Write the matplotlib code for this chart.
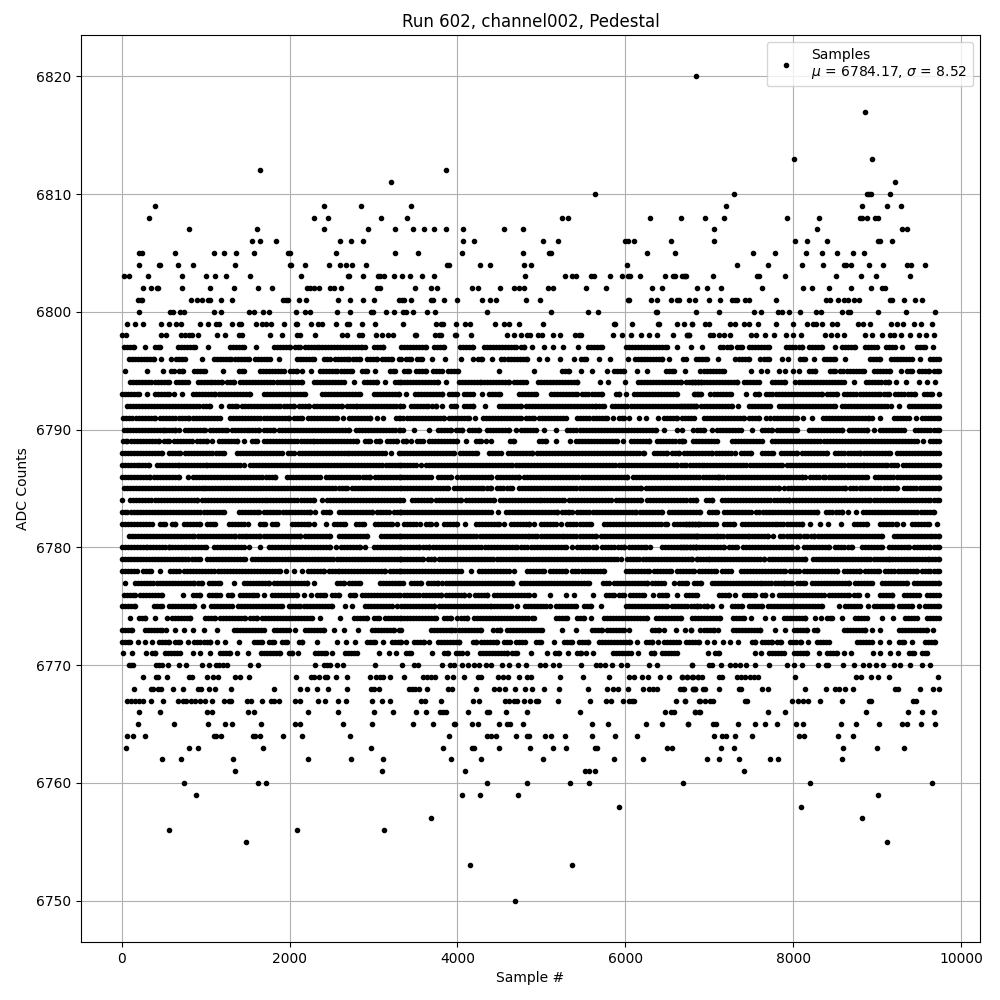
import numpy as np
import matplotlib
matplotlib.use('Agg')
import matplotlib.pyplot as plt

# Sample numbers, one list per ADC level (sparse rows).
s6820 = [6841]
s6817 = [8853]
s6813 = [8008, 8937]
s6812 = [1642, 3865]
s6811 = [3202, 9211]
s6810 = [5640, 7293, 8877, 8901, 8925, 9151]
s6809 = [391, 2404, 2845, 3448, 7198, 8818, 9115, 9282]
s6808 = [320, 2285, 2452, 3083, 3400, 5246, 5318, 6295, 6664, 6948, 7174, 7924, 8306, 8794, 8818, 8877, 8972, 9008]
s6807 = [796, 1606, 2404, 2928, 3261, 3472, 3603, 3722, 3865, 4067, 4556, 4782, 7055, 8282, 9294, 9354]
s6806 = [1546, 1642, 1832, 2594, 2725, 2868, 4067, 4198, 5020, 5199, 5997, 6033, 6104, 6545, 7055, 8020, 8163, 8401, 9008, 9032, 9175]
s6805 = [201, 236, 629, 1094, 1213, 1356, 1570, 1979, 1999, 2547, 3261, 3531, 4055, 4782, 5092, 5115, 6259, 6592,
         7520, 7782, 8151, 8341, 8520, 8710, 8842]
s6804 = [201, 439, 459, 665, 844, 1344, 2000, 2019, 2178, 2463, 2602, 2666, 2737, 2904, 3877, 3901, 4270, 4389, 4794, 4877, 6021,
         7329, 7698, 8103, 8353, 8603, 8627, 8687, 8901, 9068, 9354, 9401, 9568]
s6803 = [30, 81, 308, 713, 999, 1106, 1237, 1522, 2130, 2690, 2702, 2868, 3047, 3071, 3130, 3238, 3341, 3436, 3579, 3722, 4806, 5282,
         5366, 5413, 5592, 5628, 5818, 5961, 6033, 6056, 6176, 6473, 6568, 6592, 6676, 6711, 6698, 6722, 7043, 7567, 7591, 7901, 8508,
         8806, 8984, 9389]
s6802 = [248, 343, 415, 427, 713, 1046, 1332, 1618, 1785, 2205, 2245, 2293, 2344, 2475, 2523, 2606, 3035, 3071, 3496, 3686, 3758,
         4175, 4246, 4508, 4675, 4734, 4794, 5080, 5139, 5532, 5771, 6318, 6437, 6854, 6972, 7138, 7627, 8115, 8222, 8425, 8687, 8925,
         9056, 9092]
s6801 = [189, 224, 236, 820, 891, 951, 1022, 1046, 1177, 1308, 1916, 1951, 1975, 2106, 2190, 2571, 2714, 2868, 2999, 3297, 3341, 3365,
         3448, 3686, 3710, 3841, 3996, 4294, 4389, 4460, 4818, 4984, 6033, 6044, 6306, 6378, 6545, 6616, 6640, 6759, 6830, 6995, 7126,
         7269, 7305, 7329, 7424, 7472, 7793, 8389, 8437, 8532, 8603, 8651, 8722, 8782, 9151, 9175, 9318, 9449, 9532]
s6800 = [201, 570, 605, 689, 737, 1094, 1177, 1511, 1570, 1677, 1749, 2070, 2178, 2237, 2559, 2714, 2964, 2988, 3142, 3238, 3353, 3389,
         3472, 3639, 3734, 4353, 5115, 5556, 5675, 6366, 6378, 6842, 7115, 7531, 7615, 7817, 7865, 7948, 8079, 8270, 8329, 8580, 8651,
         8675, 9008, 9342, 9687]
s6799 = [58, 153, 248, 463, 558, 641, 701, 927, 1022, 1118, 1153, 1308, 1392, 1415, 1594, 1665, 1713, 1773, 1928, 2070, 2082, 2249,
         2332, 2380, 2547, 2678, 2702, 2856, 3011, 3353, 3746, 3805, 3829, 3984, 4091, 4151, 4449, 4556, 4615, 4734, 5020, 5866, 5878,
         6080, 6390, 6402, 6616, 6700, 6795, 6793, 6948, 6995, 7246, 7305, 7412, 7472, 7579, 7793, 7996, 8163, 8234, 8270, 8341, 8460,
         8520, 8770, 8830, 8913, 9163, 9234, 9306, 9437, 9520, 9651]
s6798 = [0, 46, 463, 522, 701, 748, 796, 832, 903, 1130, 1225, 1392, 1427, 1761, 1904, 2082, 2118, 2297, 2618, 2678, 2821, 2856, 3023,
         3095, 3166, 3226, 3496, 3508, 3734, 3782, 3805, 3972, 3984, 4163, 4591, 4675, 4758, 4830, 4865, 4961, 5008, 5139, 5223, 5401,
         5449, 5473, 5854, 5961, 6068, 6187, 6283, 6378, 6568, 6735, 6759, 6733, 6757, 7007, 7043, 7115, 7174, 7246, 7496, 7555, 7662,
         7770, 7913, 7996, 8091, 8377, 8448, 8520, 8603, 8853, 8937, 9056, 9151, 9199, 9282, 9389, 9496, 9580, 9675]
s6770 = [81, 105, 129, 403, 439, 474, 546, 677, 760, 951, 1034, 1118, 1153, 1201, 1249, 1522, 1618, 2297, 2404, 2440, 2476, 2559, 2630,
         3011, 3333, 3484, 3531, 3817, 3912, 3960, 4055, 4127, 4199, 4258, 4341, 4401, 4532, 4615, 4722, 4818, 4984, 5044, 5139, 5211,
         5473, 5651, 5699, 5758, 5842, 5949, 6025, 6283, 6378, 6795, 6793, 6995, 7031, 7138, 7246, 7305, 7365, 7436, 7543, 7710, 7924,
         8008, 8103, 8294, 8389, 8413, 8591, 8722, 8830, 8901, 8984, 9068, 9199, 9270, 9389, 9532, 9627]
s6769 = [248, 403, 427, 534, 796, 832, 1010, 1082, 1141, 1344, 1403, 1511, 2070, 2249, 2285, 2344, 2416, 2440, 2547, 2678, 2952, 3023,
         3071, 3118, 3190, 3365, 3591, 3639, 3686, 3734, 3877, 3948, 4079, 4246, 4282, 4484, 4544, 4603, 4734, 4830, 4877, 5223, 5497,
         5806, 6044, 6104, 6199, 6271, 6414, 6521, 6676, 6735, 6807, 6866, 6674, 6733, 6793, 6864, 6912, 7115, 7150, 7329, 7377, 7424,
         7484, 7531, 7579, 8020, 8746, 8806, 8925, 9008, 9139, 9723]
s6768 = [141, 343, 367, 427, 463, 605, 725, 903, 939, 1034, 1106, 1296, 1808, 2118, 2202, 2321, 2452, 2678, 2964, 2999, 3059, 3424,
         3460, 3496, 3543, 3639, 3889, 3936, 4222, 4437, 4496, 4568, 4687, 4806, 4889, 5032, 5211, 5556, 5782, 5854, 5914, 6033, 6211,
         6283, 6330, 6378, 6652, 6700, 6807, 6830, 6686, 6805, 6829, 6924, 6948, 7115, 7353, 7377, 7627, 7698, 8139, 8389, 8496, 8544,
         8615, 8710, 9211, 9246, 9508, 9663, 9740]
s6767 = [58, 105, 153, 201, 248, 343, 486, 665, 725, 760, 820, 867, 927, 987, 1070, 1213, 1272, 1296, 1487, 1534, 1665, 1773, 1808,
         1868, 2058, 2118, 2332, 2416, 2571, 2666, 2987, 3095, 3190, 3567, 3615, 3805, 4186, 4258, 4568, 4615, 4675, 4711, 4794, 4865,
         4937, 4961, 5199, 5580, 5771, 5830, 5973, 6044, 6080, 6104, 6604, 6711, 6878, 6710, 6888, 6948, 7007, 7043, 7424, 7448, 7984,
         8055, 8115, 8174, 8317, 8580, 8901, 8925, 9425, 9461]
s6766 = [201, 451, 1010, 1070, 1499, 1570, 2213, 2571, 2999, 3226, 3508, 3627, 3793, 3829, 3865, 4127, 4353, 4377, 4580, 4830, 5461,
         6473, 6545, 6580, 6830, 6878, 6829, 6888, 7698, 7901, 8865, 9366, 9532, 9675]
s6765 = [189, 617, 1022, 1225, 1308, 1654, 2058, 2118, 2630, 2976, 3472, 3710, 3960, 3972, 4175, 4246, 4496, 4591, 4627, 4782, 5604,
         5794, 6247, 6437, 6747, 6745, 7043, 7079, 7341, 7543, 7662, 7805, 8032, 8115, 8568, 8746, 9020, 9294, 9354, 9520, 9687]
s6764 = [58, 129, 272, 1094, 1118, 1177, 1558, 1582, 1642, 1916, 2142, 2714, 3901, 4353, 4401, 4460, 4699, 4830, 4854, 5044, 5115,
         5282, 5604, 5878, 6140, 7055, 7150, 7198, 7305, 7508, 8067, 8127, 8532, 8710]
s6763 = [46, 796, 903, 1677, 2964, 3829, 4175, 4198, 4496, 4865, 5139, 5294, 5640, 5663, 6497, 6557, 7138, 7293, 8591, 8996, 9318]
s6762 = [474, 701, 1320, 2213, 2725, 3118, 3924, 4282, 5020, 5866, 6211, 6972, 7115, 7353, 7722, 7817, 8580]
s6761 = [1344, 3095, 4091, 5520, 5568, 5640, 7412]
s6760 = [737, 1618, 1713, 4353, 4830, 5342, 5568, 6688, 8198, 9651]
s6759 = [879, 4055, 4270, 4722, 9008]
s6758 = [5925, 8091]
s6757 = [3686, 8818]
s6756 = [558, 2082, 3130]
s6755 = [1475, 9115]
s6753 = [4151, 5366]
s6750 = [4687]

# Dense rows: (first, last) sample of each unbroken stretch of dots.
# The dots inside a stretch merge, so single samples cannot be told apart there.
r6797 = [(30,141),(272,272),(391,451),(665,875),(1022,1022),(1284,1451),(1602,1602),(1816,2007),(2066,2126),(2186,2344),(2384,2860),(2892,2892),(2999,3118),
         (3325,3623),(3722,3841),(4032,4179),(4318,4695),(4754,4794),(4885,4885),(5032,5032),(5139,5139),(5258,5258),(5437,5437),(5556,5727),(6009,6501),(6620,6620),(6783,6783),
         (6912,6912),(7134,7254),(7333,7392),(7472,7710),(7920,8107),(8186,8345),(8496,8496),(8583,8742),(8861,9000),(9111,9219),(9294,9294),(9477,9576),(9663,9663)]
r6796 = [(81,379),(463,463),(586,586),(649,756),(951,951),(1094,1300),(1352,1511),(1590,1761),(1868,1868),(2086,2285),(2404,2475),(2543,2702),(2749,2841),(2920,3039),(3099,3218),(3297,3297),
         (3325,3325),(3385,3444),(3516,3571),(3698,3698),(3853,3853),(4044,4044),(4186,4186),(4246,4294),(4413,4413),(4524,4834),(4973,4973),(5072,5072),(5219,5219),(5389,5389),(5469,5528),(5687,5687),(5818,5818),(6033,6033),(6116,6441),(6521,6521),(6688,6688),
         (6722,6722),(6841,6976),(7099,7099),(7313,7472),(7611,7710),(7865,7865),(7936,7936),(8087,8147),(8246,8246),(8365,8504),(8615,8615),(8921,9040),(9167,9417),(9508,9508),(9635,9740)]
r6795 = [(34,34),(296,296),(486,486),(586,617),(677,729),(856,995),(1201,1201),(1392,1451),(1650,1928),(1999,2086),(2146,2146),(2249,2249),(2356,2563),(2610,2741),(2860,2920),(3011,3011),(3198,3257),
         (3365,3424),(3504,3623),(3710,3781),(3817,3817),(3881,4008),(4496,4496),(4913,4913),(5246,5330),(5469,5469),(5604,5604),(5782,5782),(5866,5985),(6140,6140),(6263,6263),(6485,6580),
         (6710,6710),(6896,7174),(7496,7496),(7615,7615),(7690,7690),(7829,7829),(7901,7901),(7996,7996),(8067,8067),(8186,8266),(8445,8504),(8564,8842),(8960,9151),(9282,9282),(9358,9417),(9496,9616),(9675,9740)]
r6794 = [(101,558),(649,784),(903,1074),(1114,1193),(1253,1332),(1411,2146),(2285,2642),(2761,2761),(2880,3039),(3138,3138),(3257,3317),
         (3325,3762),(3865,3865),(4020,4278),(4318,4615),(4675,4814),(4961,5350),(5389,5429),(5699,5699),(5794,5794),(5997,5997),(6152,6660),(6799,6898),
         (6718,7333),(7412,7591),(7750,7908),(8028,8603),(8722,8722),(8873,9139),(9223,9223),(9342,9342),(9496,9496),(9592,9592),(9695,9695)]
r6793 = [(2,200),(296,296),(391,558),(617,617),(717,717),(844,1114),(1153,1530),(1689,2186),(2384,2841),(3000,3297),
         (3392,3392),(3492,3821),(3901,4000),(4079,4179),(4294,4294),(4377,4508),(4734,4933),(5111,5429),(5489,5727),(5886,5925),(6009,6009),(6104,6620),(6826,6898),
         (6817,6888),(7015,7254),(7440,7440),(7551,7591),(7682,8345),(8405,8524),(8611,9040),(9080,9139),(9219,9457),(9556,9655),(9735,9735)]
r6792 = [(61,1054),(1181,1181),(1272,1372),(1431,1888),(1928,2046),(2106,2225),(2285,2622),(2682,2801),(2841,3317),
         (3345,3345),(3444,3643),(3702,3742),(3821,3821),(3920,3980),(4079,4190),(4329,4329),(4496,4754),(4814,5647),(5687,5747),(5846,6422),(6461,6838),
         (6658,6837),(6904,7273),(7341,7341),(7472,7722),(7829,8504),(8583,9119),(9171,9171),(9258,9258),(9377,9735)]
r6791 = [(14,121),(173,240),(280,399),(459,796),(848,1165),(1292,1987),(2046,2146),(2213,2563),(2630,2630),(2702,2960),(3035,3035),(3118,3118),(3269,3317),
         (3345,3345),(3396,3841),(3901,4139),(4206,4206),(4298,4754),(4814,4913),(4973,5112),(5151,5290),(5429,5786),(5854,5854),(5925,5985),(6044,6044),(6164,6164),(6247,6247),(6390,6390),(6461,6620),
         (6678,6817),(6936,7412),(7472,7591),(7674,7674),(7730,8048),(8115,8115),(8222,8222),(8357,8901),(8937,8937),(9032,9032),(9199,9377),(9461,9461),(9536,9740)]
r6790 = [(22,498),(526,637),(677,677),(756,995),(1054,1253),(1312,1511),(1550,1630),(1689,1808),(1868,2702),(2793,3317),
         (3345,3345),(3480,3480),(3662,3662),(3762,3920),(3980,4059),(4139,4258),(4349,4615),(4695,4695),(4754,4933),(5032,5032),(5175,5175),(5310,6362),(6461,6461),(6616,6616),
         (6678,6678),(6801,6801),(6857,6936),(7031,7031),(7095,7373),(7512,7512),(7631,7750),(7809,8048),(8186,8583),(8663,8881),(8960,8960),(9032,9318),(9457,9735)]
r6789 = [(14,62),(109,439),(498,558),(625,836),(895,1014),(1078,1078),(1153,1372),(1451,1451),(1550,1610),(1697,2285),(2325,2801),(2900,2960),(3031,3079),(3158,3277),
         (3345,3385),(3444,3444),(3523,3583),(3662,4000),(4103,4103),(4218,4278),(4345,4345),(4405,4405),(4627,4675),(4973,5052),(5171,5171),(5342,5342),(5409,5905),(5977,5977),(6064,6283),(6382,6680),
         (6698,6698),(6809,7095),(7273,7630),(7750,9477),(9544,9544),(9636,9740)]
r6788 = [(2,478),(558,697),(756,1213),(1372,1908),(1975,2046),(2106,2702),(2741,3099),(3138,3138),(3206,3206),(3297,3297),
         (3325,3960),(4028,4230),(4377,4516),(4603,4893),(4945,6223),(6342,6501),(6561,6640),
         (6698,7035),(7075,7254),(7305,7305),(7373,7500),(7631,7762),(7857,8048),(8107,8405),(8504,8802),(8841,9159),(9238,9735)]
r6787 = [(2,200),(240,319),(419,677),(717,1014),(1054,1411),(1459,1459),(1522,3317),
         (3325,3504),(3563,3563),(3623,4655),(4695,6620),
         (6658,6718),(6769,6936),(6976,7869),(7928,8841),(8881,9119),(9167,9238),(9310,9740)]
r6786 = [(2,340),(379,677),(788,788),(848,1828),(1967,2325),(2364,2364),(2436,2960),(3019,3317),
         (3325,3682),(3770,3920),(4000,4397),(4468,4734),(4794,6025),
         (6092,7103),(7134,8107),(8147,8147),(8206,8385),(8425,8881),(8980,9740)]
r6785 = [(22,975),(1006,1006),(1034,2682),(2741,3317),
         (3325,3881),(3960,4298),(4349,4405),(4476,4655),(4734,6183),
         (6243,6777),(6817,7829),(7897,8623),(8683,8822),(8861,9238),(9326,9740)]
r6784 = [(2,2),(101,895),(955,1729),(1769,2285),(2384,2384),(2444,3317),
         (3345,3345),(3456,3682),(3742,4040),(4099,4437),(4508,4992),(5032,5270),(5330,5826),(5886,6183),(6263,6402),(6441,6838),
         (6956,7035),(7154,7948),(8000,8603),(8643,8921),(8960,9635),(9675,9740)]
r6783 = [(2,62),(109,1213),(1392,1630),(1689,1868),(1920,2245),(2305,2305),(2396,2483),(2583,2980),(3039,3178),(3238,3317),
         (3325,4397),(4484,4484),(4576,5191),(5250,5330),(5370,5370),(5429,6124),(6175,6441),(6521,6896),
         (6995,7095),(7174,7492),(7563,8286),(8397,8583),(8651,8651),(8750,8750),(8834,9675)]
r6782 = [(2,359),(451,518),(597,637),(737,935),(1014,1114),(1272,1451),(1499,1499),(1650,1709),(1789,1848),(2027,2225),(2285,2285),(2436,2436),(2523,2662),(2793,2880),(3019,3218),(3277,3277),
         (3365,3504),(3555,3555),(3623,3682),(3742,3742),(3841,4000),(4087,4087),(4218,4496),(4556,4556),(4635,4853),(4913,4913),(4992,5171),(5230,5230),(5310,5588),(5747,6501),(6580,6878),
         (6718,7075),(7174,7293),(7392,7809),(7849,8107),(8206,8206),(8317,8317),(8413,8413),(8568,8568),(8722,8881),(9040,9238),(9306,9306),(9417,9616),(9711,9711)]
r6781 = [(81,439),(478,856),(903,1352),(1392,1491),(1530,1650),(1689,2126),(2186,2483),(2583,2920),(3091,3317),
         (3325,4218),(4270,4853),(4893,4953),(4992,5270),(5310,5647),(5707,6422),(6461,6858),
         (6658,7095),(7134,7472),(7512,7698),(7762,7762),(7849,8087),(8135,8246),(8294,9060),(9199,9655),(9695,9740)]
r6780 = [(2,300),(340,558),(597,737),(768,1006),(1094,1451),(1519,1519),(1642,1642),(1749,1928),(1967,2483),(2551,2551),(2610,2841),(2900,2900),(2999,3317),
         (3325,3543),(3583,3662),(3710,4714),(4762,5290),(5370,5370),(5429,5647),(5727,5985),(6044,6243),(6295,6295),(6441,6838),
         (6658,7174),(7234,7333),(7404,7988),(8048,8048),(8127,8425),(8504,8702),(8822,9060),(9139,9377),(9437,9635),(9675,9740)]
r6779 = [(2,935),(1014,1471),(1550,3317),
         (3325,3583),(3643,3722),(3781,5905),(5945,5945),(6025,6799),(6858,6858),
         (6849,6995),(7035,7651),(7710,8147),(8238,9139),(9179,9616),(9655,9740)]
r6778 = [(2,181),(252,347),(459,459),(578,677),(744,1888),(1959,1959),(2046,2046),(2146,2146),(2213,2404),(2463,2582),(2622,2940),(2980,3138),(3190,3317),
         (3325,3464),(3504,4040),(4159,4159),(4258,4615),(4675,4675),(4826,5032),(5104,5290),(5370,5747),(6005,6283),(6342,6541),(6620,6819),
         (6876,7075),(7154,7254),(7373,7908),(7960,8067),(8127,8524),(8603,8802),(8861,9020),(9100,9477),(9536,9635),(9675,9740)]
r6777 = [(42,42),(161,856),(903,955),(1034,1173),(1340,1340),(1451,1749),(1808,2205),(2285,2285),(2563,2642),(2702,2841),(3071,3317),
         (3345,3345),(3444,3563),(3643,3762),(3821,4655),(4754,5568),(5735,5806),(5866,6263),(6322,6461),(6580,6580),(6640,6739),(6819,6898),
         (7035,7631),(7670,7889),(7928,7988),(8048,8147),(8226,8663),(8742,8941),(9060,9357),(9437,9735)]
r6776 = [(22,161),(220,320),(359,478),(725,725),(848,935),(1034,1133),(1173,1173),(1265,1312),(1403,1570),(1610,1610),(1689,1689),(1789,2086),(2166,2166),(2253,2253),(2325,2424),(2503,2582),(2722,2781),(2860,3317),
         (3365,3543),(3583,3801),(3861,4079),(4139,4139),(4206,4357),(4437,4853),(4913,4913),(5104,5104),(5298,5298),(5389,5389),(5616,5616),(5766,5866),(5925,5985),(6056,6223),(6330,6330),(6402,6501),(6620,6620),(6719,6858),
         (7115,7234),(7305,7305),(7412,7551),(7631,7670),(7750,7750),(7829,8365),(8425,8663),(8722,8782),(8881,8881),(9032,9179),(9318,9497),(9596,9735)]
r6775 = [(2,161),(379,478),(558,856),(963,963),(1062,1312),(1380,1908),(1987,2126),(2166,2503),(2662,2662),(2741,2741),(2900,3218),(3277,3277),
         (3325,3722),(3781,4397),(4437,4635),(4707,4707),(4802,5052),(5104,5104),(5171,5409),(5509,5588),(5707,5707),(6005,6501),(6561,6858),
         (6896,6976),(7031,7031),(7138,7138),(7273,7392),(7472,7631),(7698,8008),(8048,8345),(8544,8544),(8623,8802),(8889,8889),(8960,9179),(9258,9417),(9496,9496),(9576,9735)]
r6774 = [(93,93),(200,280),(391,391),(534,534),(597,816),(995,1114),(1173,1471),(1531,1610),(1669,2265),(2356,2356),(2594,2594),(2761,2920),(2999,3059),(3138,3317),
         (3325,3504),(3543,3742),(3841,3920),(4000,4119),(4198,4913),(5171,5310),(5429,5509),(5592,5592),(5747,6263),(6362,6660),(6799,6898),
         (6936,7134),(7281,7412),(7496,7496),(7662,7662),(7758,7758),(7889,8147),(8258,8258),(8329,8329),(8405,8464),(8583,8583),(8742,8881),(9060,9060),(9187,9187),(9338,9477),(9596,9740)]
r6773 = [(2,121),(280,478),(522,522),(629,629),(737,737),(844,844),(975,975),(1130,1130),(1332,1689),(1808,1987),(2058,2058),(2186,2404),(2523,2523),(2642,2642),(2809,2809),(2980,3238),(3297,3297),
         (3325,3325),(3682,3920),(3940,4278),(4429,4508),(4587,5012),(5246,5246),(5413,5413),(5608,5727),(5786,5985),(6044,6044),(6322,6402),(6461,6461),(6604,6604),(6711,6711),(6783,6783),
         (6777,6777),(6896,7055),(7103,7103),(7281,7611),(7781,7781),(7901,7901),(8008,8167),(8246,8286),(8603,8861),(8937,8937),(9040,9040),(9258,9596),(9663,9663)]
r6772 = [(2,101),(189,189),(272,272),(355,355),(439,558),(637,689),(784,784),(856,927),(975,1054),(1134,1134),(1225,1225),(1392,1392),(1570,1669),(1749,1808),(1908,1967),(2106,2146),(2321,2321),(2563,2563),(2666,2666),(2773,2773),(2920,3019),(3118,3118),(3218,3317),
         (3325,3325),(3392,3392),(3484,3603),(3662,3662),(3762,4020),(4179,4218),(4278,4476),(4556,4627),(4695,4802),(4933,4992),(5151,5151),(5270,5370),(5449,5560),(5687,6056),(6140,6140),(6243,6322),(6390,6390),(6461,6640),(6719,6878),
         (6972,6972),(7055,7055),(7162,7162),(7246,7246),(7341,7341),(7512,7551),(7631,7750),(7809,7861),(7968,8095),(8174,8174),(8286,8425),(8762,8941),(9040,9040),(9147,9147),(9258,9318),(9417,9417),(9576,9695)]
r6771 = [(14,14),(121,121),(284,284),(359,399),(518,689),(844,844),(935,935),(1046,1046),(1165,1292),(1368,1368),(1499,1499),(1658,1888),(1987,2027),(2094,2094),(2297,2432),(2507,2507),(2662,2801),(3063,3063),(3178,3178),(3273,3273),
         (3385,3444),(3698,3698),(3841,3881),(3980,4051),(4115,4115),(4270,4595),(4655,4714),(4877,4877),(5072,5072),(5159,5211),(5314,5314),(5429,5469),(5532,5532),(5616,5616),(5854,6064),(6152,6152),(6302,6342),(6441,6620),
         (6984,6984),(7067,7115),(7543,7543),(7615,7615),(7710,7889),(8008,8167),(8306,8306),(8405,8524),(8603,8603),(8687,8687),(8949,8949),(9032,9032),(9151,9151),(9246,9246),(9377,9437),(9536,9596)]

sparse_levels = [6820, 6817, 6813, 6812, 6811, 6810, 6809, 6808, 6807, 6806, 6805, 6804, 6803, 6802, 6801, 6800, 6799, 6798,
                 6770, 6769, 6768, 6767, 6766, 6765, 6764, 6763, 6762, 6761, 6760, 6759, 6758, 6757, 6756, 6755, 6753, 6750]
sparse_rows = [s6820, s6817, s6813, s6812, s6811, s6810, s6809, s6808, s6807, s6806, s6805, s6804, s6803, s6802, s6801, s6800, s6799, s6798,
               s6770, s6769, s6768, s6767, s6766, s6765, s6764, s6763, s6762, s6761, s6760, s6759, s6758, s6757, s6756, s6755, s6753, s6750]
dense_levels = [6797, 6796, 6795, 6794, 6793, 6792, 6791, 6790, 6789, 6788, 6787, 6786, 6785, 6784,
                6783, 6782, 6781, 6780, 6779, 6778, 6777, 6776, 6775, 6774, 6773, 6772, 6771]
dense_rows = [r6797, r6796, r6795, r6794, r6793, r6792, r6791, r6790, r6789, r6788, r6787, r6786, r6785, r6784,
              r6783, r6782, r6781, r6780, r6779, r6778, r6777, r6776, r6775, r6774, r6773, r6772, r6771]

title = 'Run 602, channel002, Pedestal'
legend_label = 'Samples\n$\\mu$ = 6784.17, $\\sigma$ = 8.52'


def row_samples(runs):
    '''
    Turns the stretches of one dense row into sample numbers. The step only has to be
    small enough for the dots to merge, with the beaded edge they have in the picture.
    '''
    parts = [np.append(np.arange(first, last, 36), last) for first, last in runs]
    return np.concatenate(parts)


xs = []
ys = []
for level, samples in zip(sparse_levels, sparse_rows):
    xs.extend(samples)
    ys.extend([level] * len(samples))
for level, runs in zip(dense_levels, dense_rows):
    samples = row_samples(runs)
    xs.extend(samples)
    ys.extend([level] * len(samples))

plt.figure(figsize=(10, 10), dpi=100)
plt.plot(xs, ys, 'k.', label=legend_label)
plt.title(title)
plt.xlabel('Sample #')
plt.ylabel('ADC Counts')
plt.ticklabel_format(useOffset=False, style='plain')
plt.grid(True)
plt.legend(loc='upper right')
plt.subplots_adjust(left=0.081, right=0.98, top=0.965, bottom=0.058)
plt.savefig('out.png')
